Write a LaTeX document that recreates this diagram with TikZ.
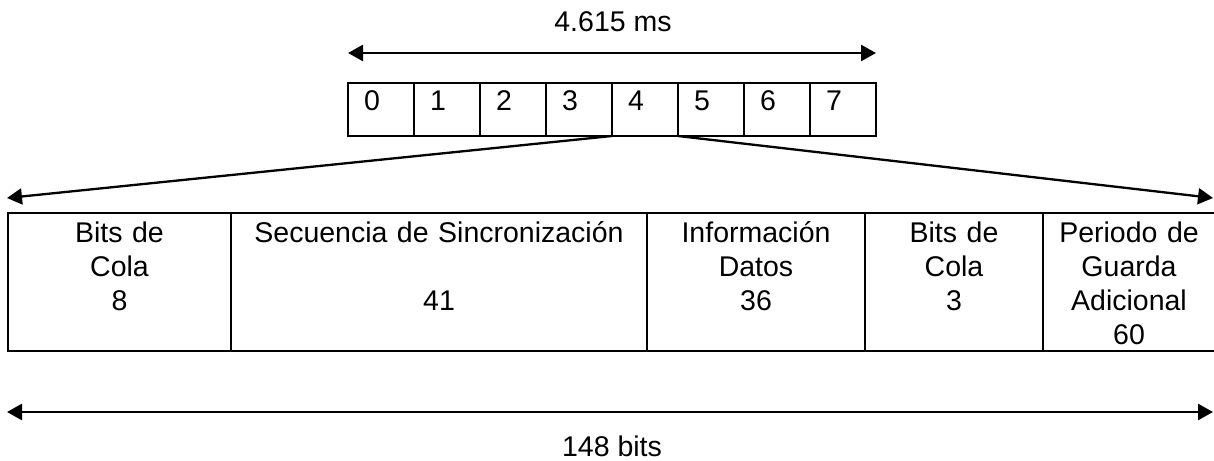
\documentclass[tikz,border=0pt]{standalone}
\usepackage{fontspec}
\setmainfont{Liberation Sans}
\usepackage{tikz}
\usetikzlibrary{positioning}
\usetikzlibrary{arrows.meta}

\begin{document}
\begin{tikzpicture}[x=1pt,y=-1pt,
                    nodes={font=\fontsize{28.5}{34}\selectfont},
                    >={Triangle[length=15pt,width=16pt]},
                    slot/.style={draw,line width=2.2pt,outer sep=0pt,
                                 inner xsep=16pt,inner ysep=0pt,text width=34pt,
                                 align=left,text height=27pt,text depth=26pt},
                    field/.style={draw,line width=2.2pt,outer sep=0pt,
                                  inner sep=0pt,text width=#1,
                                  align=center,text height=29pt,text depth=109pt},
                    span/.style={<->,line width=2.6pt},
                    fan/.style={->,line width=2.3pt}]
 \useasboundingbox (0,0) rectangle (1214,460);
 \node[slot,anchor=north west] (s0) at (348,83) {0};
 \foreach \i [count=\j from 0] in {1,...,7}
   \node[slot,right=0pt of s\j] (s\i) {\i};
 \coordinate[above=30pt of s0.north west] (tl);
 \coordinate[above=30pt of s7.north east] (tr);
 \draw[span] (tl) -- (tr);
 \node (ms) at (613,22) {4.615 ms};
 \node[field=223pt,anchor=north west] (f1) at (8,213) {Bits de\\Cola\\8};
 \node[field=416pt,right=0pt of f1] (f2) {Secuencia de Sincronización\\ \mbox{}\\41};
 \node[field=218pt,right=0pt of f2] (f3) {Información\\Datos\\36};
 \node[field=178pt,right=0pt of f3] (f4) {Bits de\\Cola\\3};
 \node[field=172pt,right=0pt of f4] (f5) {Periodo de\\Guarda\\Adicional\\60};
 \coordinate (la) at (7,198);
 \coordinate (ra) at (1213,198);
 \draw[fan] (s4.south west) -- (la);
 \draw[fan] (s4.south east) -- (ra);
 \coordinate (bl) at (7,412);
 \coordinate (br) at (1213,412);
 \draw[span] (bl) -- (br);
 \node (bits) at (612,446) {148 bits};
\end{tikzpicture}
\end{document}
